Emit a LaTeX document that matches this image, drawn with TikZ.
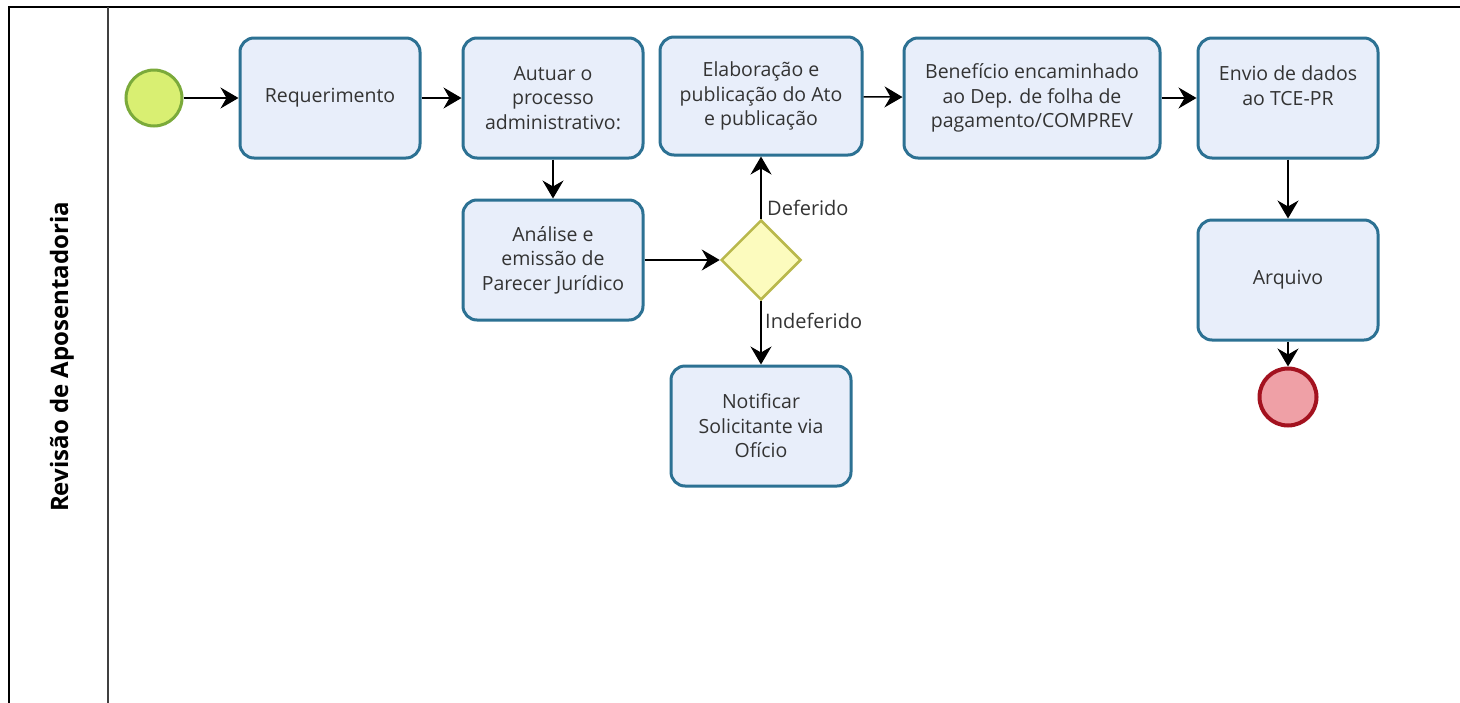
\documentclass[tikz,border=0pt]{standalone}
\usepackage{fontspec}
\setmainfont{Open Sans}
\usetikzlibrary{shapes.geometric,arrows.meta}
\definecolor{boxfill}{HTML}{E8EEFA}
\definecolor{boxline}{HTML}{2C7193}
\definecolor{txt}{HTML}{333333}
\definecolor{startfill}{HTML}{D9EF72}
\definecolor{startline}{HTML}{7BAA3A}
\definecolor{endfill}{HTML}{EFA0A6}
\definecolor{endline}{HTML}{A3121F}
\definecolor{gwfill}{HTML}{FCFBBE}
\definecolor{gwline}{HTML}{B9B84C}
\tikzset{
  task/.style={draw=boxline, fill=boxfill, line width=3pt, rounded corners=14pt,
    minimum width=180pt, minimum height=120pt, align=center, text=txt,
    font=\fontsize{19.5}{24.5}\selectfont, inner sep=2pt},
  flow/.style={-{Stealth[length=18pt,width=21pt,inset=6pt]}, line width=1.5pt, black},
  lbl/.style={text=txt, font=\fontsize{20}{22}\selectfont, inner sep=0pt, anchor=west}
}
\begin{document}
\begin{tikzpicture}[x=1pt,y=-1pt]
\useasboundingbox (0,0) rectangle (1460,702);
\fill[white] (0,0) rectangle (1460,702);
% pool frame
\draw[line width=2pt, black] (9,710) -- (9,7) -- (1470,7);
\draw[line width=2pt, black!75] (108,7) -- (108,710);
\node[rotate=90, font=\bfseries\fontsize{24}{28}\selectfont, text=black] (lane) at (62,357) {Revisão de Aposentadoria};
% events
\node[circle, draw=startline, fill=startfill, line width=3pt, minimum size=56pt, inner sep=0pt] (start) at (154,98) {};
\node[circle, draw=endline, fill=endfill, line width=4pt, minimum size=57pt, inner sep=0pt] (end) at (1288,397) {};
% tasks
\node[task] (req) at (330,98) {Requerimento};
\node[task] (aut) at (553,98) {Autuar o\\processo\\administrativo:};
\node[task, minimum width=202pt, minimum height=118pt] (ela) at (761,96) {Elaboração e\\publicação do Ato\\e publicação};
\node[task, minimum width=256pt] (ben) at (1032,98) {Benefício encaminhado\\ao Dep. de folha de\\pagamento/COMPREV};
\node[task] (env) at (1288,98) {Envio de dados\\ao TCE-PR\\\mbox{}};
\node[task] (ana) at (553,260) {Análise e\\emissão de\\Parecer Jurídico};
\node[task] (notif) at (761,426) {Notificar\\Solicitante via\\Ofício};
\node[task] (arq) at (1288,280) {Arquivo};
% gateway
\node[diamond, draw=gwline, fill=gwfill, line width=2.5pt, minimum width=80pt, minimum height=80pt, inner sep=0pt] (gw) at (761,260) {};
% flows
\draw[flow] (start) -- (req);
\draw[flow] (req) -- (aut);
\draw[flow] (aut) -- (ana);
\draw[flow] (ana) -- (gw);
\draw[flow] (gw) -- (ela);
\draw[flow] (gw) -- (notif);
\draw[flow] (ela) -- (ben);
\draw[flow] (ben) -- (env);
\draw[flow] (env) -- (arq);
\draw[flow] (arq) -- (end);
% labels
\node[lbl] (ldef) at (767,208) {Deferido};
\node[lbl] (lind) at (765,321) {Indeferido};
\end{tikzpicture}
\end{document}
